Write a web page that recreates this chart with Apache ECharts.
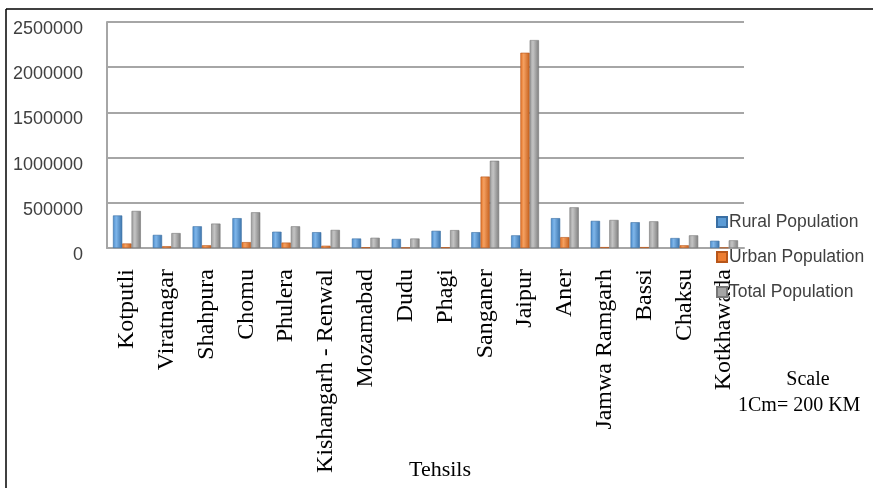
<!DOCTYPE html>
<html><head><meta charset="utf-8">
<script src="https://cdn.jsdelivr.net/npm/echarts@6/dist/echarts.min.js"></script>
<style>html,body{margin:0;padding:0;background:#fff}#c{width:873px;height:488px}</style>
</head><body><div id="c"></div>
<script>
const categories = ["Kotputli","Viratnagar","Shahpura","Chomu","Phulera","Kishangarh - Renwal","Mozamabad","Dudu","Phagi","Sanganer","Jaipur","Aner","Jamwa Ramgarh","Bassi","Chaksu","Kotkhawada"];
const ruralPopulation = [360000,145000,240000,330000,180000,175000,105000,100000,190000,175000,140000,330000,300000,285000,110000,80000];
const urbanPopulation = [50000,20000,30000,65000,60000,25000,8000,5000,8000,790000,2160000,120000,10000,10000,30000,5000];
const totalPopulation = [410000,165000,270000,395000,240000,200000,113000,105000,198000,965000,2300000,450000,310000,295000,140000,85000];
const seriesNames = ["Rural Population","Urban Population","Total Population"];
const yTicks = [0,500000,1000000,1500000,2000000,2500000];

function grad(light, mid, dark){
  return {type:'linear',x:0,y:0,x2:1,y2:0,colorStops:[
    {offset:0,color:mid},{offset:0.35,color:light},{offset:1,color:dark}]};
}
const chart = echarts.init(document.getElementById('c'));
const barCommon = {type:'bar', barGap:'0%', barCategoryGap:'30%'};
chart.setOption({
  animation:false,
  backgroundColor:'#fff',
  grid:{left:107,right:129,top:22,bottom:240,containLabel:false,outerBoundsMode:'none'},
  legend:{
    orient:'vertical', left:711, top:208, itemWidth:10, itemHeight:10, itemGap:17, icon:'rect',
    textStyle:{fontFamily:'Liberation Sans',fontSize:17.5,color:'#404040',padding:[0,0,0,-3]},
    data:seriesNames.map((n,i)=>({name:n,itemStyle:{color:['#5B9BD5','#ED7D31','#A5A5A5'][i]}}))
  },
  xAxis:{
    type:'category', data:categories,
    axisLine:{show:true,lineStyle:{color:'#a6a6a6',width:2}},
    axisTick:{show:false},
    axisLabel:{rotate:90, interval:0, margin:21, fontFamily:'Liberation Serif', fontSize:24, color:'#000'}
  },
  yAxis:{
    type:'value', min:0, max:2500000, interval:500000,
    axisLine:{show:true,lineStyle:{color:'#a6a6a6',width:2}},
    axisTick:{show:false},
    splitLine:{lineStyle:{color:'#a6a6a6',width:2}},
    axisLabel:{margin:24, fontFamily:'Liberation Sans',fontSize:18,color:'#404040',
      verticalAlign:'top', lineHeight:14,
      formatter:v=>yTicks.includes(v)?String(v):''}
  },
  series:[
    Object.assign({name:seriesNames[0],data:ruralPopulation,
      itemStyle:{color:grad('#7fb6ea','#4a8bcb','#3b73ab'),borderColor:'#3a6fa3',borderWidth:0.6}},barCommon),
    Object.assign({name:seriesNames[1],data:urbanPopulation,
      itemStyle:{color:grad('#f5a060','#e27327','#c45f1d'),borderColor:'#b8561a',borderWidth:0.6}},barCommon),
    Object.assign({name:seriesNames[2],data:totalPopulation,
      itemStyle:{color:grad('#c4c4c4','#9c9c9c','#7e7e7e'),borderColor:'#777',borderWidth:0.6}},barCommon)
  ],
  graphic:[
    {type:'line',shape:{x1:6,y1:9,x2:873,y2:9},style:{stroke:'#000',lineWidth:1.5}},
    {type:'line',shape:{x1:6,y1:9,x2:6,y2:488},style:{stroke:'#000',lineWidth:1.5}},
    {type:'text',style:{text:'Tehsils',x:440,y:470,align:'center',verticalAlign:'middle',
      font:'22px "Liberation Serif"',fill:'#000'}},
    {type:'text',style:{text:'Scale',x:808,y:380,align:'center',verticalAlign:'middle',
      font:'20px "Liberation Serif"',fill:'#000'}},
    {type:'text',style:{text:'1Cm= 200 KM',x:738,y:406,align:'left',verticalAlign:'middle',
      font:'20px "Liberation Serif"',fill:'#000'}}
  ]
});
</script></body></html>
